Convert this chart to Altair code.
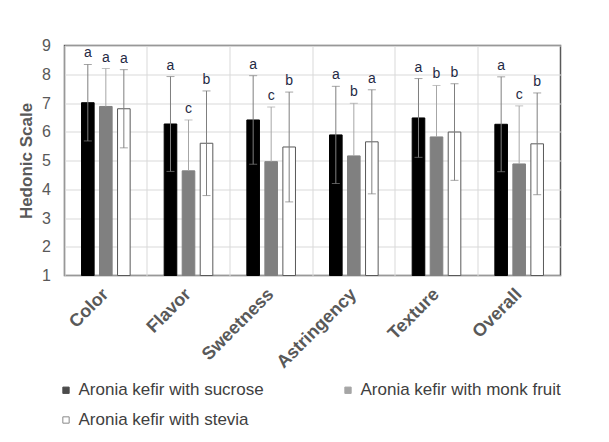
import altair as alt
import pandas as pd

attributes = ["Color", "Flavor", "Sweetness", "Astringency", "Texture", "Overall"]
series = ["Aronia kefir with sucrose", "Aronia kefir with monk fruit", "Aronia kefir with stevia"]

mean_sucrose = [7.01, 6.27, 6.41, 5.89, 6.48, 6.26]
sd_sucrose = [1.33, 1.65, 1.54, 1.69, 1.37, 1.65]
letters_sucrose = ["a", "a", "a", "a", "a", "a"]

mean_monk = [6.88, 4.64, 4.96, 5.16, 5.82, 4.88]
sd_monk = [1.32, 1.77, 1.90, 1.83, 1.79, 2.02]
letters_monk = ["a", "c", "c", "b", "b", "c"]

mean_stevia = [6.80, 5.60, 5.47, 5.65, 5.99, 5.58]
sd_stevia = [1.36, 1.82, 1.91, 1.81, 1.68, 1.77]
letters_stevia = ["a", "b", "b", "a", "b", "b"]

y_ticks = [1, 2, 3, 4, 5, 6, 7, 8, 9]

bar_fill = ["#000000", "#808080", "#ffffff"]
bar_stroke = ["#000000", "#808080", "#595959"]
err_color = ["#7f7f7f", "#a6a6a6", "#7f7f7f"]
show_lower = [True, False, True]

rows = []
for si, (s, m, sd, lt) in enumerate(zip(series,
                                        [mean_sucrose, mean_monk, mean_stevia],
                                        [sd_sucrose, sd_monk, sd_stevia],
                                        [letters_sucrose, letters_monk, letters_stevia])):
    for a, mv, sv, l in zip(attributes, m, sd, lt):
        rows.append({
            "attr": a, "series": s, "mean": mv,
            "hi": mv + sv,
            "lo": mv - sv if show_lower[si] else mv,
            "haslo": show_lower[si],
            "letter": l, "ecol": err_color[si],
        })
df = pd.DataFrame(rows)

yscale = alt.Scale(domain=[1, 9], nice=False, zero=False)
yaxis = alt.Axis(title="Hedonic Scale", values=y_ticks,
                 grid=True, gridColor="#d9d9d9", ticks=False,
                 domain=False, labelFontSize=16, labelColor="#595959",
                 labelPadding=14, labelOverlap=False, labelFlush=False,
                 titleFontSize=17, titleFontWeight="bold",
                 titleColor="#595959", titlePadding=6)

base = alt.Chart(df).encode(
    x=alt.X("attr:N", sort=attributes,
            scale=alt.Scale(paddingInner=0, paddingOuter=0),
            axis=alt.Axis(title=None, labelAngle=-45, labelAlign="right",
                          labelBaseline="middle", labelFontSize=18,
                          labelFontWeight="bold", labelColor="#595959",
                          labelPadding=16, ticks=False, domain=False,
                          grid=True, gridColor="#d9d9d9", bandPosition=0,
                          labelOverlap=False)),
    xOffset=alt.XOffset("series:N", sort=series,
                        scale=alt.Scale(paddingInner=0.3, paddingOuter=0.945)),
)

bars = base.mark_bar(strokeWidth=1).encode(
    y=alt.Y("mean:Q", scale=yscale, axis=yaxis, title="Hedonic Scale"),
    y2=alt.datum(1),
    color=alt.Color("series:N", sort=series,
                    scale=alt.Scale(domain=series, range=bar_fill),
                    legend=alt.Legend(title=None)),
    stroke=alt.Stroke("series:N", sort=series,
                      scale=alt.Scale(domain=series, range=bar_stroke),
                      legend=alt.Legend(title=None)),
)

err = base.mark_rule(strokeWidth=1).encode(
    y=alt.Y("lo:Q", scale=yscale, axis=yaxis, title="Hedonic Scale"),
    y2="hi:Q",
    color=alt.Color("ecol:N", scale=None),
)

cap_hi = base.mark_tick(orient="horizontal", size=8, thickness=1).encode(
    y=alt.Y("hi:Q", scale=yscale, axis=yaxis, title="Hedonic Scale"),
    color=alt.Color("ecol:N", scale=None),
)

cap_lo = base.mark_tick(orient="horizontal", size=8, thickness=1).encode(
    y=alt.Y("lo:Q", scale=yscale, axis=yaxis, title="Hedonic Scale"),
    color=alt.Color("ecol:N", scale=None),
).transform_filter("datum.haslo")

letters = base.mark_text(baseline="bottom", dy=-4, fontSize=14,
                         color="#1f2a44", font="Liberation Sans").encode(
    y=alt.Y("hi:Q", scale=yscale, axis=yaxis, title="Hedonic Scale"),
    text="letter:N",
)

chart = alt.layer(bars, err, cap_hi, cap_lo, letters).properties(
    width=496, height=230,
    autosize=alt.AutoSizeParams(type="none"),
    padding={"left": 56.5, "top": 37.5, "right": 40, "bottom": 162},
).configure(
    font="Liberation Sans"
).configure_view(
    stroke="#595959", strokeWidth=1.5
).configure_legend(
    orient="none", legendX=-7, legendY=336, columns=2, columnPadding=75,
    direction="horizontal", labelLimit=0,
    rowPadding=12, symbolType="square", symbolSize=40, labelFontSize=17,
    labelColor="#404040", labelFont="Liberation Sans", symbolStrokeWidth=1,
    labelOffset=4,
)

chart.save("out.html", embed_options={"renderer": "svg", "actions": False})
